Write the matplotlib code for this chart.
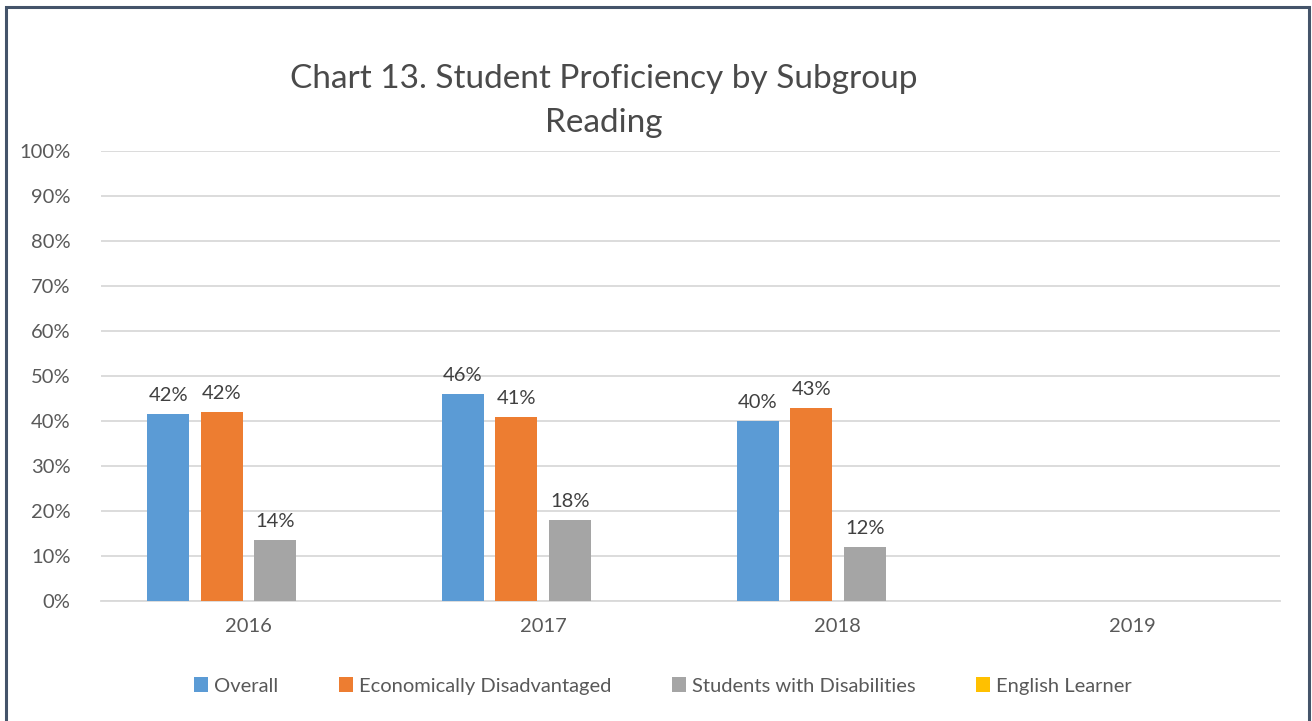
#!/usr/bin/env python3
import matplotlib

matplotlib.use("agg")
import matplotlib.pyplot as plt
import numpy as np
from matplotlib.patches import Rectangle

YEARS = ["2016", "2017", "2018", "2019"]
SERIES = ["Overall", "Economically Disadvantaged", "Students with Disabilities", "English Learner"]
OVERALL = [41.6, 46.0, 40.0, np.nan]
ECON_DIS = [42.1, 41.0, 43.0, np.nan]
SWD = [13.6, 18.0, 12.0, np.nan]
ELL = [np.nan, np.nan, np.nan, np.nan]
COLORS = ["#5B9BD5", "#ED7D31", "#A5A5A5", "#FFC000"]

TEXT = "#595959"
plt.rcParams["font.family"] = ["Lato", "DejaVu Sans"]

fig = plt.figure(figsize=(13.12, 7.21), dpi=100)
ax = fig.add_axes([101 / 1312, 1 - 601 / 721, 1179 / 1312, 450 / 721])

x = np.arange(len(YEARS))
step = 0.1815
width = 0.1425
for i, (name, vals, col) in enumerate(zip(SERIES, [OVERALL, ECON_DIS, SWD, ELL], COLORS)):
    pos = x + (i - 1.5) * step
    bars = ax.bar(pos, vals, width=width, color=col, label=name, zorder=3)
    for b, v in zip(bars, vals):
        if np.isnan(v):
            continue
        ax.text(b.get_x() + b.get_width() / 2, v + 2.2, f"{round(v):.0f}%",
                ha="center", va="bottom", fontsize=14.5, color="#404040")

ax.set_xlim(-0.5, 3.5)
ax.set_ylim(0, 100)
ax.set_yticks(range(0, 101, 10))
ax.set_yticklabels([f"{t}%" for t in range(0, 101, 10)])
ax.set_xticks(x)
ax.set_xticklabels(YEARS)
ax.tick_params(axis="both", length=0, labelsize=14.5, labelcolor=TEXT)
ax.tick_params(axis="y", pad=22)
ax.tick_params(axis="x", pad=12)
ax.grid(axis="y", color="#D9D9D9", linewidth=1.3, zorder=0)
for s in ["top", "right", "left"]:
    ax.spines[s].set_visible(False)
ax.spines["bottom"].set_color("#D9D9D9")
ax.spines["bottom"].set_linewidth(1.3)

fig.text(604 / 1312, 1 - 101 / 721, "Chart 13. Student Proficiency by Subgroup\nReading",
         ha="center", va="center", fontsize=24, color="#4a4a4a", linespacing=1.55)

leg = fig.legend(loc="center", bbox_to_anchor=(663 / 1312, 1 - 686 / 721), ncol=4,
                 frameon=False, fontsize=14.5, handlelength=0.7, handleheight=0.7,
                 handletextpad=0.3, columnspacing=3.0)
for t in leg.get_texts():
    t.set_color(TEXT)

fig.patches.append(Rectangle((6 / 1312, -0.05), 1303 / 1312, 1.05 - 6 / 721 - 0.002,
                             transform=fig.transFigure, fill=False,
                             edgecolor="#44546A", linewidth=2.2))

fig.savefig("out.png", dpi=100)
